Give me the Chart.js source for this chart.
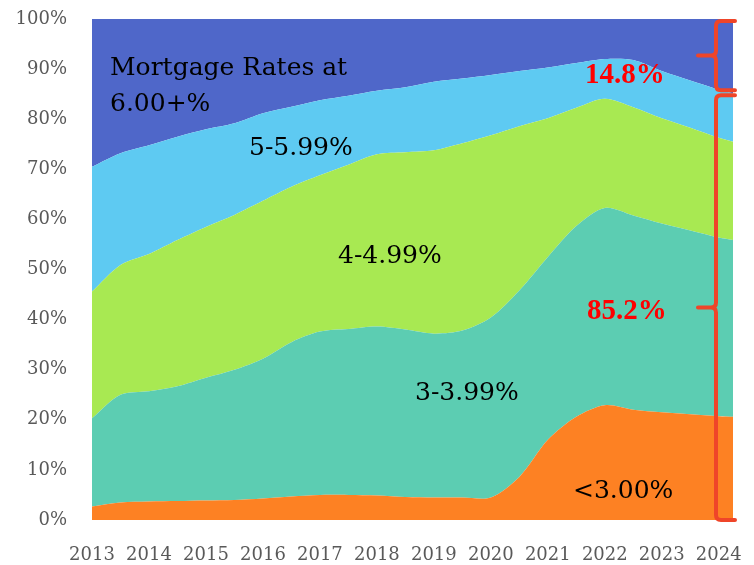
<!DOCTYPE html>
<html lang="en">
<head>
    <meta charset="UTF-8">
    <title>Outstanding Mortgages by Rate</title>
    <style>
        body {
            margin: 0;
            background-color: #ffffff;
        }
        #chartBox {
            width: 754px;
            height: 565px;
        }
    </style>
</head>
<body>
    <div id="chartBox">
        <canvas id="rateChart" width="754" height="565"></canvas>
    </div>

    <script src="https://cdn.jsdelivr.net/npm/chart.js"></script>

    <script>
        // Half-year observations (last one is early 2024)
        const periods = [2013, 2013.5, 2014, 2014.5, 2015, 2015.5, 2016, 2016.5, 2017, 2017.5, 2018, 2018.5,
                         2019, 2019.5, 2020, 2020.5, 2021, 2021.5, 2022, 2022.5, 2023, 2023.5, 2024, 2024.25];
        const yearTicks = [2013, 2014, 2015, 2016, 2017, 2018, 2019, 2020, 2021, 2022, 2023, 2024];
        const percentTicks = [0, 10, 20, 30, 40, 50, 60, 70, 80, 90, 100];

        // Share of mortgages (%) in each rate bucket
        const below3 = [2.7, 3.5, 3.7, 3.8, 3.9, 4.0, 4.3, 4.7, 5.0, 5.0, 4.9, 4.6,
                        4.5, 4.5, 4.5, 8.6, 16.0, 20.6, 22.9, 22.0, 21.5, 21.1, 20.7, 20.6];
        const rate3to4 = [17.6, 21.5, 22.0, 22.9, 24.5, 26.0, 27.9, 30.8, 32.6, 33.1, 33.7, 33.4,
                          32.7, 33.3, 35.9, 37.2, 36.5, 38.1, 39.4, 38.8, 37.7, 36.7, 35.7, 35.3];
        const rate4to5 = [25.3, 25.9, 27.4, 29.2, 30.1, 30.9, 31.5, 31.0, 31.2, 32.8, 34.4, 35.4,
                          36.6, 37.4, 36.4, 32.8, 27.7, 23.6, 21.8, 21.6, 21.0, 20.5, 19.9, 19.6];
        const rate5to6 = [24.9, 22.3, 21.7, 20.6, 19.5, 18.3, 17.5, 16.0, 15.0, 13.8, 12.7, 13.0,
                          13.7, 12.9, 12.0, 11.0, 10.1, 8.9, 7.9, 9.4, 9.4, 9.4, 9.6, 9.7];
        const rate6plus = [29.5, 26.8, 25.2, 23.5, 22.0, 20.8, 18.8, 17.5, 16.2, 15.3, 14.3, 13.6,
                           12.5, 11.9, 11.2, 10.4, 9.7, 8.8, 8.0, 8.2, 10.4, 12.3, 14.1, 14.8];

        const shareBelow6 = 85.2;
        const shareAbove6 = 14.8;

        function points(values) {
            return values.map((v, i) => ({ x: periods[i], y: v }));
        }

        function area(label, values, color, fill) {
            return {
                label: label,
                data: points(values),
                backgroundColor: color,
                borderColor: color,
                borderWidth: 0,
                pointRadius: 0,
                tension: 0.3,
                fill: fill
            };
        }

        const serif = '"DejaVu Serif", serif';

        // text labels and the red braces on the right
        const notes = {
            id: 'notes',
            afterDatasetsDraw(chart) {
                const ctx = chart.ctx;
                const y = chart.scales.y;
                ctx.save();
                ctx.textBaseline = 'alphabetic';
                ctx.textAlign = 'left';
                ctx.fillStyle = '#000000';
                ctx.font = '25px ' + serif;
                ctx.fillText('Mortgage Rates at', 110, 75);
                ctx.fillText('6.00+%', 110, 111);
                ctx.fillText('5-5.99%', 249, 155);
                ctx.fillText('4-4.99%', 338, 263);
                ctx.fillText('3-3.99%', 415, 400);
                ctx.fillText('<3.00%', 573, 498);

                ctx.fillStyle = '#ff0000';
                ctx.font = 'bold 29px "Liberation Serif", serif';
                ctx.fillText(shareAbove6.toFixed(1) + '%', 585, 83);
                ctx.fillText(shareBelow6.toFixed(1) + '%', 587, 319);

                // braces
                ctx.strokeStyle = '#ef4529';
                ctx.lineWidth = 4;
                ctx.lineCap = 'round';
                ctx.lineJoin = 'round';
                const bx = 716;
                function brace(top, bottom) {
                    const mid = (top + bottom) / 2;
                    const r = 5;
                    ctx.beginPath();
                    ctx.moveTo(735, top);
                    ctx.lineTo(bx + r, top);
                    ctx.quadraticCurveTo(bx, top, bx, top + r);
                    ctx.lineTo(bx, mid - r);
                    ctx.quadraticCurveTo(bx, mid, bx - r, mid);
                    ctx.lineTo(bx - 18, mid);
                    ctx.moveTo(bx - r, mid);
                    ctx.quadraticCurveTo(bx, mid, bx, mid + r);
                    ctx.lineTo(bx, bottom - r);
                    ctx.quadraticCurveTo(bx, bottom, bx + r, bottom);
                    ctx.lineTo(735, bottom);
                    ctx.stroke();
                }
                brace(y.getPixelForValue(100) + 2, y.getPixelForValue(shareBelow6) - 3);
                brace(y.getPixelForValue(shareBelow6) + 2, y.getPixelForValue(0));
                ctx.restore();
            }
        };

        const ctx = document.getElementById('rateChart').getContext('2d');
        const chart = new Chart(ctx, {
            type: 'line',
            data: {
                datasets: [
                    area('<3.00%', below3, '#fd8123', 'origin'),
                    area('3-3.99%', rate3to4, '#5ccdb2', '-1'),
                    area('4-4.99%', rate4to5, '#a8e952', '-1'),
                    area('5-5.99%', rate5to6, '#5ecaf2', '-1'),
                    area('6.00+%', rate6plus, '#4f67c9', '-1')
                ]
            },
            options: {
                responsive: false,
                animation: false,
                layout: {
                    padding: { top: 19, right: 21, left: 0, bottom: 0 }
                },
                plugins: {
                    legend: { display: false },
                    tooltip: { enabled: false }
                },
                scales: {
                    x: {
                        type: 'linear',
                        min: periods[0],
                        max: periods[periods.length - 1],
                        grid: { display: false },
                        border: { display: false },
                        afterBuildTicks: s => { s.ticks = yearTicks.map(v => ({ value: v })); },
                        afterFit: s => {
                            s.height = 45;
                            s.paddingLeft = 0;
                            s.paddingRight = 0;
                        },
                        ticks: {
                            autoSkip: false,
                            maxRotation: 0,
                            padding: 17,
                            color: '#595959',
                            font: { family: serif, size: 18 },
                            callback: v => String(v)
                        }
                    },
                    y: {
                        stacked: true,
                        min: 0,
                        max: 100,
                        grid: { display: false, drawTicks: false },
                        border: { display: false },
                        afterBuildTicks: s => { s.ticks = percentTicks.map(v => ({ value: v })); },
                        afterFit: s => {
                            s.width = 92;
                            s.paddingTop = 0;
                            s.paddingBottom = 0;
                        },
                        ticks: {
                            padding: 25,
                            color: '#595959',
                            font: { family: serif, size: 18 },
                            callback: v => v + '%'
                        }
                    }
                }
            },
            plugins: [notes]
        });
    </script>
</body>
</html>
